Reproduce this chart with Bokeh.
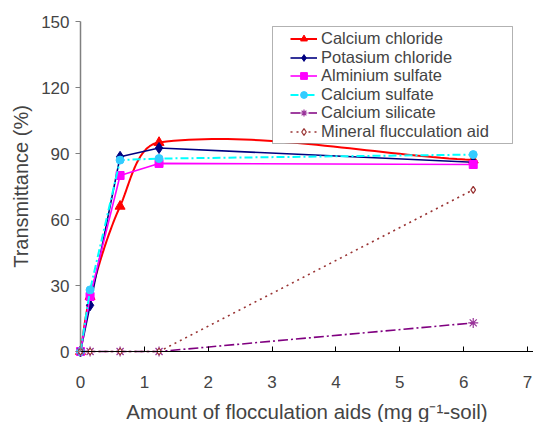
import numpy as np
from bokeh.plotting import figure
from bokeh.models import Range1d, Legend, LegendItem, FixedTicker, BoxAnnotation
from bokeh.embed import file_html
from bokeh.resources import INLINE

x = [0, 0.15, 0.62, 1.23, 6.15]
calcium_chloride = [0, 25, 66, 95, 87]
potasium_chloride = [0, 21, 88.5, 92.5, 86]
alminium_sulfate = [0, 25, 80, 85.5, 85]
calcium_sulfate = [0, 28, 87, 87.7, 89.5]
calcium_silicate = [0, 0, 0, 0, 13]
mineral_aid = [0, 0, 0, 0, 73.5]
x_ticks = [0, 1, 2, 3, 4, 5, 6, 7]
y_ticks = [0, 30, 60, 90, 120, 150]

FONT = "Liberation Sans"
SX, SY = 63.86, 2.2  # pixels per data unit (for smoothing in screen-like space)


def smooth(xs, ys, n=40):
    # smoothed line through the points (cubic Bezier, chord-length weighted tangents)
    P = np.column_stack([np.array(xs) * SX, np.array(ys) * SY])
    out = [P[0]]
    m = len(P)
    for i in range(m - 1):
        p0 = P[i - 1] if i > 0 else P[i]
        p1, p2 = P[i], P[i + 1]
        p3 = P[i + 2] if i + 2 < m else P[i + 1]
        d01 = np.linalg.norm(p1 - p0)
        d12 = np.linalg.norm(p2 - p1)
        d23 = np.linalg.norm(p3 - p2)
        c1 = p1 + (p2 - p0) * (d12 / (d01 + d12)) / 3 if d01 > 0 else p1 + (p2 - p1) / 3
        c2 = p2 - (p3 - p1) * (d12 / (d12 + d23)) / 3 if d23 > 0 else p2 - (p2 - p1) / 3
        t = np.linspace(0, 1, n)[1:, None]
        seg = ((1 - t) ** 3) * p1 + 3 * ((1 - t) ** 2) * t * c1 + 3 * (1 - t) * t * t * c2 + (t ** 3) * p2
        out.extend(seg)
    out = np.array(out)
    return out[:, 0] / SX, out[:, 1] / SY


W, H = 533, 422
p = figure(width=W, height=H, output_backend="svg", toolbar_location=None,
           x_range=Range1d(-80 / SX, 7 + 6 / SX), y_range=Range1d(-71 / SY, 150 + 21 / SY),
           min_border=0)
p.outline_line_color = None
p.grid.visible = False
p.background_fill_color = "white"
p.border_fill_color = "white"

items = []

cx, cy = smooth(x, calcium_chloride)
r1 = p.line(cx, cy, line_color="#FF0000", line_width=2)
m1 = p.scatter(x, calcium_chloride, marker="triangle", size=10, fill_color="#FF0000", line_color="#FF0000")
items.append(LegendItem(label="Calcium chloride", renderers=[r1, m1]))

r2 = p.line(x, potasium_chloride, line_color="#000080", line_width=1.6)
m2 = p.scatter(x, potasium_chloride, marker="diamond", size=11, fill_color="#000080", line_color="#000080")
items.append(LegendItem(label="Potasium chloride", renderers=[r2, m2]))

r3 = p.line(x, alminium_sulfate, line_color="#FF00FF", line_width=1.6)
m3 = p.scatter(x, alminium_sulfate, marker="square", size=8, fill_color="#FF00FF", line_color="#FF00FF")
items.append(LegendItem(label="Alminium sulfate", renderers=[r3, m3]))

r4 = p.line(x, calcium_sulfate, line_color="#00FFFF", line_width=2, line_dash="8 3 2 3")
m4 = p.scatter(x, calcium_sulfate, marker="circle", size=8, fill_color="#33CCFF", line_color="#33CCFF")
items.append(LegendItem(label="Calcium sulfate", renderers=[r4, m4]))

r5 = p.line(x, calcium_silicate, line_color="#800080", line_width=1.6, line_dash="10 3 2 3")
m5 = p.scatter(x, calcium_silicate, marker="asterisk", size=10, fill_color=None, line_color="#993399", line_width=1.2)
items.append(LegendItem(label="Calcium silicate", renderers=[r5, m5]))

r6 = p.line(x, mineral_aid, line_color="#993333", line_width=1.6, line_dash="2 4")
m6 = p.scatter(x, mineral_aid, marker="diamond", size=7, fill_color="white", line_color="#993333", line_width=1.2)
items.append(LegendItem(label="Mineral flucculation aid", renderers=[r6, m6]))

# legend frame (screen units, measured from the bottom-left of the plot area)
LEG_LEFT, LEG_RIGHT, LEG_TOP, LEG_BOTTOM = 272, 512, 26, 143
p.add_layout(BoxAnnotation(left=LEG_LEFT, right=LEG_RIGHT, top=H - LEG_TOP, bottom=H - LEG_BOTTOM,
                           left_units="screen", right_units="screen", top_units="screen",
                           bottom_units="screen", fill_color="white", fill_alpha=1,
                           line_color="black", line_width=1))

# one tightly packed row per legend entry
ROW_PITCH, FIRST_ROW_CENTER, ROW_BOX = 18.5, 39, 18.4
for i, it in enumerate(items):
    center = FIRST_ROW_CENTER + i * ROW_PITCH
    lg = Legend(items=[it], location=(290, H - center - ROW_BOX / 2), label_text_font=FONT,
                label_text_font_size="16.5px", label_height=17, glyph_height=17, glyph_width=27,
                spacing=0, padding=0, margin=0, label_standoff=4,
                border_line_color=None, background_fill_alpha=0)
    p.add_layout(lg, "center")

xa = p.xaxis[0]
xa.fixed_location = 0
xa.bounds = (0, 7.4)
xa.ticker = FixedTicker(ticks=x_ticks)
xa.axis_line_color = "black"
xa.major_tick_in = 5
xa.major_tick_out = 0
xa.minor_tick_line_color = None
xa.major_label_text_font = FONT
xa.major_label_text_font_size = "17px"
xa.major_label_standoff = 24
xa.axis_label = "Amount of flocculation aids (mg g\u207b\u00b9-soil)"
xa.axis_label_text_font = FONT
xa.axis_label_text_font_size = "20.5px"
xa.axis_label_text_font_style = "normal"
xa.axis_label_standoff = 9

ya = p.yaxis[0]
ya.fixed_location = 0
ya.bounds = (0, 150)
ya.ticker = FixedTicker(ticks=y_ticks)
ya.axis_line_color = "#808080"
ya.axis_line_width = 1.5
ya.major_tick_in = 0
ya.major_tick_out = 5
ya.major_tick_line_color = "#808080"
ya.minor_tick_line_color = None
ya.major_label_text_font = FONT
ya.major_label_text_font_size = "17px"
ya.major_label_standoff = 6
ya.axis_label = "Transmittance (%)"
ya.axis_label_text_font = FONT
ya.axis_label_text_font_size = "20px"
ya.axis_label_text_font_style = "normal"
ya.axis_label_standoff = 6

open("out.html", "w").write(file_html(p, INLINE))
